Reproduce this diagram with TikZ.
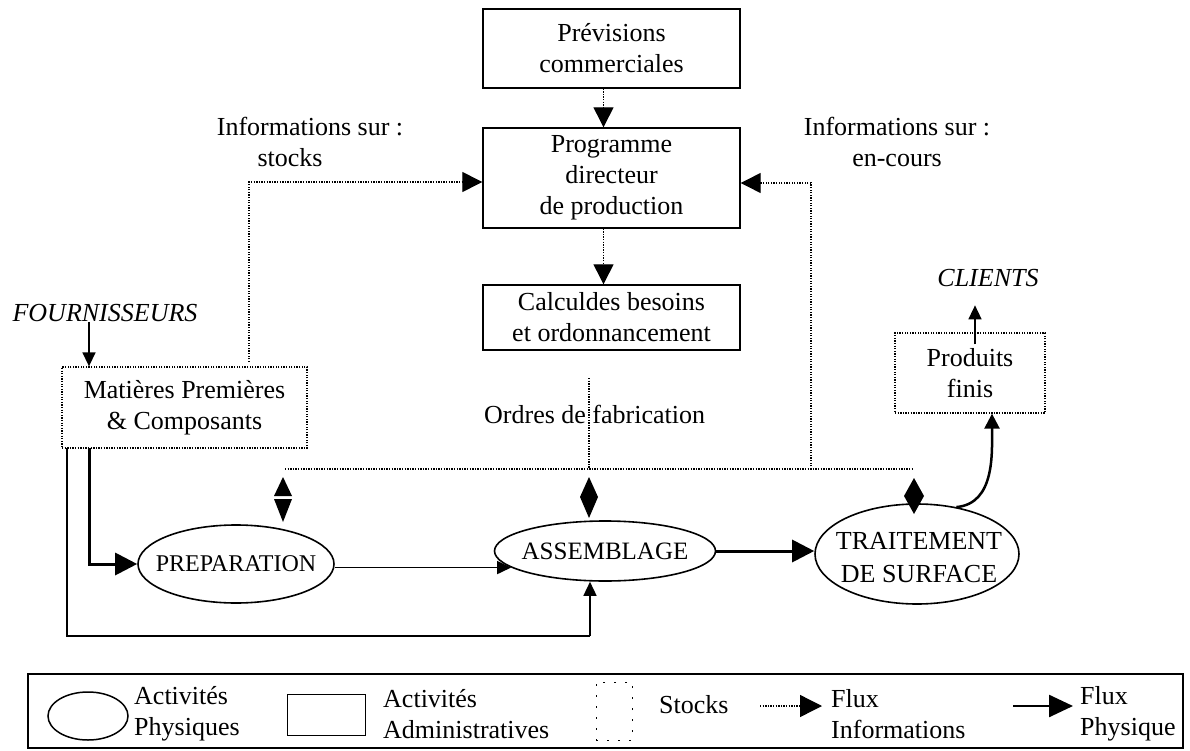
\documentclass[tikz,border=0pt]{standalone}
\usepackage{fontspec}
\setmainfont{Liberation Serif}
\usetikzlibrary{arrows.meta,shapes.geometric,calc}
\begin{document}
\begin{tikzpicture}[x=1pt,y=-1pt,
  every node/.style={inner sep=0pt, font=\fontsize{26}{31}\selectfont},
  admin/.style={draw, line width=1.4pt, align=center, inner sep=0pt},
  stock/.style={draw, line width=1.3pt, dash pattern=on 1.3pt off 1.3pt, align=center},
  phys/.style={draw, ellipse, line width=1.6pt},
  physlabel/.style={align=center, font=\fontsize{25}{33}\selectfont},
  txt/.style={align=center},
  info/.style={line width=1.3pt, dash pattern=on 1.3pt off 1.3pt},
  infoarrow/.style={info, -{Triangle[length=20pt,width=20pt]}},
  thinarrow/.style={line width=1.5pt, -{Triangle[length=14pt,width=13pt]}},
  thickarrow/.style={line width=3pt, -{Triangle[length=22pt,width=22pt]}},
  medarrow/.style={line width=2.5pt, -{Triangle[length=15pt,width=15pt]}},
  tipfill/.style={fill=black}
]
\useasboundingbox (0,0) rectangle (1190,751);

% administrative boxes
\node[admin, minimum width=257, minimum height=79] (prev) at (611.5,48.5) {Prévisions\\commerciales};
\node[admin, minimum width=257, minimum height=100] (prog) at (611.5,178) {Programme\\directeur\\de production};
\node[admin, minimum width=257, minimum height=65] (calc) at (611.5,317.5) {Calculdes besoins\\et ordonnancement};

% stocks
\node[stock, minimum width=245, minimum height=81] (mat) at (184.5,407.5) {Matières Premières\\\& Composants};
\node[stock, minimum width=150, minimum height=80] (prod) at (970,373) {Produits\\finis};

% physical activities
\node[phys, minimum width=196, minimum height=78] (prep) at (236,564) {};
\node[physlabel, font=\fontsize{24}{33}\selectfont] (prepT) at (prep) {PREPARATION};
\node[phys, minimum width=221, minimum height=60] (asm) at (605,551) {};
\node[physlabel] (asmT) at (asm) {ASSEMBLAGE};
\node[phys, minimum width=204, minimum height=100] (trt) at (917,554) {};
\node[physlabel, font=\fontsize{26}{33}\selectfont] (trtT) at (919,558) {TRAITEMENT\\DE SURFACE};

% labels
\node[txt] (infL) at (310,142) {Informations sur :\\stocks\hspace*{40pt}};
\node[txt] (infR) at (897,142) {Informations sur :\\en-cours};
\node (four) at (105,313) {\textit{FOURNISSEURS}};
\node (cli) at (988,278) {\textit{CLIENTS}};
\node[anchor=west] (ord) at (484,414) {Ordres de fabrication};

% coordinates
\coordinate (m1) at (89,448);
\coordinate (m2) at (67,448);
\coordinate (b1) at (590,636);
\coordinate (busL) at (285,469);
\coordinate (busR) at (913,469);
\coordinate (o1) at (589,378);
\coordinate (r1) at (811,469);
\coordinate (l1) at (249,362);

% information flows
\draw[infoarrow] ($(prev.south)+(-8,0)$) -- ($(prog.north)+(-8,0)$);
\draw[infoarrow] ($(prog.south)+(-8,0)$) -- ($(calc.north)+(-8,0)$);
\draw[infoarrow] (l1) |- ($(prog.west)+(0,4)$);
\draw[infoarrow] (r1) |- ($(prog.east)+(0,5)$);
\draw[info] (busL) -- (busR);
\draw[info] (o1) -- (o1 |- busL);

% bus to activities
\fill[tipfill] (283,477) -- (292,496) -- (274,496) -- cycle;
\fill[tipfill] (283,522) -- (292,499) -- (274,499) -- cycle;
\fill[tipfill] (589,477) -- (598,497) -- (589,518) -- (580,497) -- cycle;
\fill[tipfill] (914,478) -- (924,496) -- (914,514) -- (904,496) -- cycle;

% physical flows
\draw[thinarrow] (four.south -| m1) -- (mat.north -| m1);
\draw[thickarrow] (m1) |- (prep.west);
\draw[line width=1.3pt] (m2) |- (b1);
\draw[thinarrow] (b1) -- (b1 |- asm.south);
\draw[thinarrow] (asm.190 -| prep.east) -- (asm.190);
\draw[thickarrow] (asm.east) -- (asm.east -| trt.west);
\draw[medarrow] (trt.50) to[out=5,in=-90] ($(prod.south)+(22,0)$);
\draw[thinarrow] ($(prod.north)+(5,12)$) -- ($(prod.north)+(5,-27)$);

% legend
\node[draw, line width=1.2pt, minimum width=1155, minimum height=74] (leg) at (605.5,711) {};
\node[draw, ellipse, line width=1.5pt, minimum width=80, minimum height=48] (lgE) at (88,716) {};
\node[anchor=west, align=left] (lgEt) at (134,714) {Activités\\Physiques};
\node[draw, line width=1pt, minimum width=78, minimum height=41] (lgR) at (326,714.5) {};
\node[anchor=west, align=left] (lgRt) at (383,714) {Activités\\Administratives};
\node[draw, line width=1pt, dash pattern=on 2pt off 9pt, minimum width=36, minimum height=58] (lgS) at (614,711) {};
\node[anchor=west] (lgSt) at (659,705) {Stocks};
\coordinate (lgI1) at (760,706);
\coordinate (lgI2) at (822,706);
\draw[info, -{Triangle[length=22pt,width=22pt]}] (lgI1) -- (lgI2);
\node[anchor=west, align=left] (lgIt) at (831,714) {Flux\\Informations};
\coordinate (lgP1) at (1013,706);
\coordinate (lgP2) at (1073,706);
\draw[line width=2.5pt, -{Triangle[length=24pt,width=22pt]}] (lgP1) -- (lgP2);
\node[anchor=west, align=left] (lgPt) at (1080,714) {Flux\\Physique};
\end{tikzpicture}
\end{document}
